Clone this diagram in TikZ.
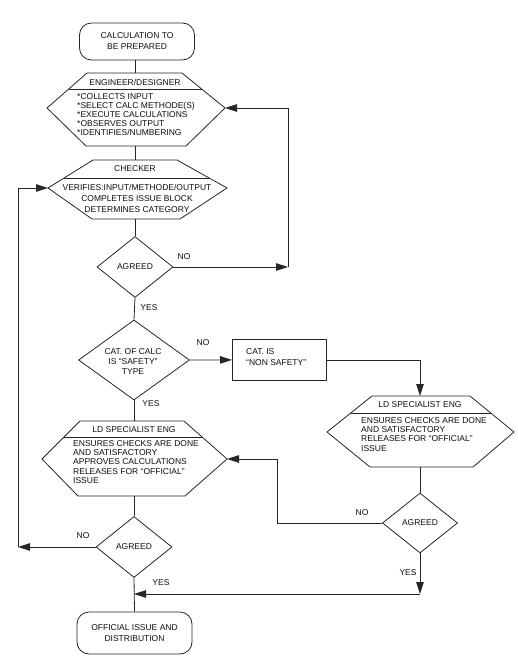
\documentclass[tikz,border=0pt]{standalone}
\usepackage{fontspec}
\setmainfont{Liberation Sans}
\usetikzlibrary{arrows.meta,shapes.geometric,calc}
\definecolor{ln}{gray}{0.15}
\definecolor{txtc}{gray}{0.05}
\newcommand\lbfont{\fontsize{8.5}{9}\selectfont}
\begin{document}
\begin{tikzpicture}[x=1pt,y=-1pt,
  line/.style={draw=ln, line width=0.8pt},
  arr/.style={line, -{Triangle[length=12pt,width=7.5pt]}},
  lbl/.style={font=\lbfont, inner sep=0pt, text=txtc},
  term/.style={line, rounded corners=12pt, minimum width=115pt, minimum height=37pt, align=center, inner sep=0pt, text=txtc},
  dia/.style={line, diamond, inner sep=0pt, minimum width=76pt, minimum height=61pt},
]
\useasboundingbox (0,0) rectangle (518,669);

% start terminal
\node[term, font=\fontsize{8.5}{11}\selectfont] (s1) at (137,41.5) {CALCULATION TO\\BE PREPARED};

% engineer hexagon
\coordinate (eTL) at (87,73); \coordinate (eTR) at (182,73);
\coordinate (eR) at (225,108); \coordinate (eBR) at (186,146);
\coordinate (eBL) at (86,146); \coordinate (eL) at (47,108);
\coordinate (eT) at (135,73); \coordinate (eB) at (135,146);
\draw[line] (eTL)--(eTR)--(eR)--(eBR)--(eBL)--(eL)--cycle;
\draw[line] ($(eL)!0.54!(eTL)$) -- ($(eR)!0.54!(eTR)$);
\node[lbl] (eH) at (135,82) {ENGINEER/DESIGNER};
\node[lbl, align=left, anchor=north west] (eX) at (77,93.5) {*COLLECTS INPUT\\*SELECT CALC METHODE(S)\\*EXECUTE CALCULATIONS\\*OBSERVES OUTPUT\\*IDENTIFIES/NUMBERING};

% checker hexagon
\coordinate (cTL) at (93,160); \coordinate (cTR) at (177,160);
\coordinate (cR) at (227,188); \coordinate (cBR) at (180,219);
\coordinate (cBL) at (92,219); \coordinate (cL) at (48,188);
\coordinate (cT) at (135,160); \coordinate (cB) at (135,219);
\draw[line] (cTL)--(cTR)--(cR)--(cBR)--(cBL)--(cL)--cycle;
\draw[line] ($(cL)!0.357!(cTL)$) -- ($(cR)!0.357!(cTR)$);
\node[lbl] (cH) at (135,169) {CHECKER};
\node[lbl, align=center, font=\fontsize{8.5}{11}\selectfont] (cX) at (137,198) {VERIFIES:INPUT/METHODE/OUTPUT\\COMPLETES ISSUE BLOCK\\DETERMINES CATEGORY};

% agreed 1
\node[dia] (a1) at (135,267) {};
\node[lbl] (a1t) at (a1) {AGREED};

% safety diamond
\node[dia, minimum width=111pt, minimum height=80pt] (sd) at (134,360) {};
\node[lbl, align=center, font=\fontsize{8.5}{10}\selectfont] (sdt) at (133,362) {CAT. OF CALC\\IS “SAFETY”\\TYPE};

% non safety box
\node[line, minimum width=94pt, minimum height=41pt, anchor=north west, inner sep=0pt] (nb) at (232,339) {};
\node[lbl, align=left, anchor=north west, font=\fontsize{8.5}{11}\selectfont] (nbt) at (246,348.5) {CAT. IS\\“NON SAFETY”};

% LD hexagon 1
\coordinate (lTL) at (80,421); \coordinate (lTR) at (184,421);
\coordinate (lR) at (227,459); \coordinate (lBR) at (185,496);
\coordinate (lBL) at (78,496); \coordinate (lL) at (42,459);
\coordinate (lT) at (134,421); \coordinate (lB) at (134,496);
\draw[line] (lTL)--(lTR)--(lR)--(lBR)--(lBL)--(lL)--cycle;
\draw[line] ($(lL)!0.58!(lTL)$) -- ($(lR)!0.58!(lTR)$);
\node[lbl] (lH) at (134,430) {LD SPECIALIST ENG};
\node[lbl, align=left, anchor=north west, font=\fontsize{8.5}{9.3}\selectfont] (lX) at (73,440) {ENSURES CHECKS ARE DONE\\AND SATISFACTORY\\APPROVES CALCULATIONS\\RELEASES FOR “OFFICIAL”\\ISSUE};

% agreed 3
\node[dia] (a3) at (134,547) {};
\node[lbl] (a3t) at (a3) {AGREED};

% final terminal
\node[term, minimum height=42pt, font=\fontsize{8.5}{10.5}\selectfont] (f1) at (134.5,633) {OFFICIAL ISSUE AND\\DISTRIBUTION};

% LD hexagon 2
\coordinate (mTL) at (372,396); \coordinate (mTR) at (470,396);
\coordinate (mR) at (514,432); \coordinate (mBR) at (473,467);
\coordinate (mBL) at (370,467); \coordinate (mL) at (327,432);
\coordinate (mT) at (420,396); \coordinate (mB) at (420,467);
\draw[line] (mTL)--(mTR)--(mR)--(mBR)--(mBL)--(mL)--cycle;
\draw[line] ($(mL)!0.53!(mTL)$) -- ($(mR)!0.53!(mTR)$);
\node[lbl] (mH) at (420,405) {LD SPECIALIST ENG};
\node[lbl, align=left, anchor=north west, font=\fontsize{8.5}{9.3}\selectfont] (mX) at (361,417) {ENSURES CHECKS ARE DONE\\AND SATISFACTORY\\RELEASES FOR “OFFICIAL”\\ISSUE};

% agreed 2
\node[dia, minimum width=75pt, minimum height=60pt] (a2) at (420,523) {};
\node[lbl] (a2t) at (a2) {AGREED};

% bend points
\coordinate (k1) at (288,267);
\coordinate (k2) at (277,523);
\coordinate (k3) at (18,547);
\coordinate (k4) at (420,594);

% connectors
\draw[line] (eT |- s1.south) -- (eT);
\draw[line] (eB) -- (cT);
\draw[line] (cB) -- (a1.north);
\draw[line] (a1.south) -- (sd.north);
\draw[line] (sd.south) -- (lT);
\draw[line] (lB) -- (a3.north);
\draw[line] (a3.south) -- (f1.north);
\draw[arr] (a1.east) -- (k1);
\draw[arr] (k1) -- (k1 |- eR) -- (eR);
\draw[arr] (sd.east) -- (nb.west);
\draw[arr] (nb.east) -- (nb.east -| mT) -- (mT);
\draw[line] (mB) -- (a2.north);
\draw[arr] (a2.west) -- (k2) -- (k2 |- lR) -- (lR);
\draw[arr] (a2.south) -- (k4);
\draw[arr] (k4) -- (k4 -| a3.south);
\draw[arr] (a3.west) -- (k3);
\draw[arr] (k3) -- (k3 |- cL) -- (cL);

% labels
\node[lbl] (n1) at (184,257) {NO};
\node[lbl] (y1) at (149,308) {YES};
\node[lbl] (n2) at (203,343) {NO};
\node[lbl] (y2) at (151,404) {YES};
\node[lbl] (n3) at (83,536) {NO};
\node[lbl] (n4) at (362,513) {NO};
\node[lbl] (y3) at (408,573) {YES};
\node[lbl] (y4) at (161,583) {YES};
\end{tikzpicture}
\end{document}
